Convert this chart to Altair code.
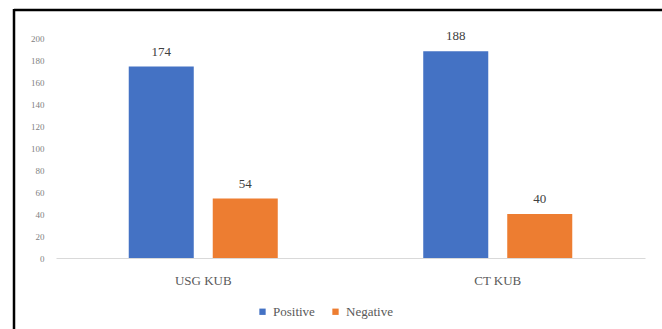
import altair as alt
import pandas as pd

categories = ["USG KUB", "CT KUB"]
series = ["Positive", "Negative"]
positive = [174, 188]
negative = [54, 40]
y_ticks = [0, 20, 40, 60, 80, 100, 120, 140, 160, 180, 200]
colors = ["#4472C4", "#ED7D31"]

rows = []
for c, p, n in zip(categories, positive, negative):
    rows.append({"cat": c, "series": "Positive", "value": p})
    rows.append({"cat": c, "series": "Negative", "value": n})
df = pd.DataFrame(rows)

FONT = "Liberation Serif"

x_enc = alt.X("cat:N", sort=categories, title=None,
              scale=alt.Scale(paddingInner=0.494, paddingOuter=0.247),
              axis=alt.Axis(labelAngle=0, labelFont=FONT, labelFontSize=13,
                            labelColor="#595959", labelPadding=16, ticks=False,
                            domainColor="#D9D9D9", domainWidth=1))
xoff = alt.XOffset("series:N", sort=series,
                   scale=alt.Scale(paddingInner=0.226, paddingOuter=0))
y_enc = alt.Y("value:Q", title=None,
              scale=alt.Scale(domain=[0, 200], nice=False),
              axis=alt.Axis(values=y_ticks, labelFont=FONT, labelFontSize=9,
                            labelColor="#7F7F7F", labelPadding=12, ticks=False,
                            domain=False, grid=False))

bars = alt.Chart(df).mark_bar().encode(
    x=x_enc, xOffset=xoff, y=y_enc,
    color=alt.Color("series:N", sort=series,
                    scale=alt.Scale(domain=series, range=colors),
                    legend=alt.Legend(title=None, orient="none", direction="horizontal",
                                      legendX=200, legendY=267, symbolType="square",
                                      symbolSize=40, labelFont=FONT, labelFontSize=13,
                                      labelColor="#595959", columnPadding=14,
                                      symbolStrokeWidth=0)),
)

labels = alt.Chart(df).mark_text(dy=-8, font=FONT, fontSize=13, color="#404040",
                                 baseline="bottom").encode(
    x=alt.X("cat:N", sort=categories), xOffset=xoff, y=y_enc,
    text="value:Q")

frame_top = alt.Chart(pd.DataFrame({"k": [0]})).mark_rule(color="black", strokeWidth=2.5).encode(
    x=alt.value(-42), x2=alt.value(620), y=alt.value(-28))
frame_left = alt.Chart(pd.DataFrame({"k": [0]})).mark_rule(color="black", strokeWidth=2.5).encode(
    x=alt.value(-42), y=alt.value(-29), y2=alt.value(300))

chart = alt.layer(bars, labels, frame_top, frame_left).properties(
    width=589, height=220,
    padding={"left": 56, "top": 38, "right": 17, "bottom": 71},
    autosize=alt.AutoSizeParams(type="none"),
    background="white",
).configure(font=FONT).configure_view(stroke=None).configure_legend(
    labelFont=FONT, labelFontSize=13, labelColor="#595959"
)

chart.save("out.html", embed_options={"renderer": "svg", "actions": False})
